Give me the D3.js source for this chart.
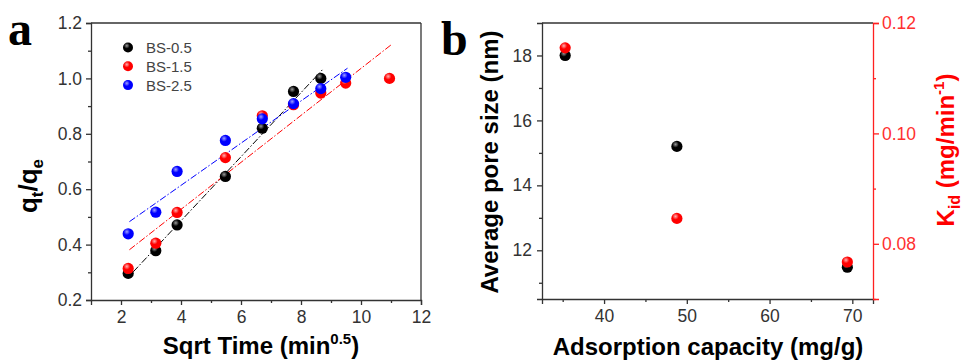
<!DOCTYPE html>
<html>
<head>
<meta charset="utf-8">
<script src="https://cdn.jsdelivr.net/npm/d3@7"></script>
<style>
  body { margin: 0; background: #fff; }
  svg { display: block; font-family: "Liberation Sans", Arial, sans-serif; }
  .tick text { fill: #333; font-size: 17.5px; }
  .ax path, .ax line { stroke: #333; stroke-width: 1.3; }
  .axred path, .axred line { stroke: #ff2020; stroke-width: 1.3; }
  .axred .tick text { fill: #ff3030; }
</style>
</head>
<body>
<div id="chart"></div>
<script>
// ---- panel a: intraparticle diffusion ----
const sqrtTime = [2.24, 3.16, 3.87, 5.48, 6.71, 7.75, 8.66, 9.49, 10.95];
const seriesNames = ['BS-0.5', 'BS-1.5', 'BS-2.5'];
const seriesColors = ['#000000', '#ff0000', '#0000ff'];
const bs05 = [0.296, 0.378, 0.471, 0.646, 0.82, 0.953, 1.0];
const bs15 = [0.314, 0.405, 0.516, 0.714, 0.865, 0.905, 0.947, 0.983, 1.0];
const bs25 = [0.439, 0.517, 0.664, 0.776, 0.854, 0.909, 0.963, 1.004];
// linear fits
const fitSlope = [0.1157, 0.0848, 0.0762];
const fitIntercept = [0.023, 0.188, 0.309];
const fitStart = [2.41, 2.28, 2.28];
const fitEnd = [8.71, 11.02, 9.55];
const aXTicks = [2, 4, 6, 8, 10, 12];
const aXMinor = [3, 5, 7, 9, 11];
const aYTicks = [0.2, 0.4, 0.6, 0.8, 1.0, 1.2];
const aYMinor = [0.3, 0.5, 0.7, 0.9, 1.1];

// ---- panel b ----
const capacity = [35.3, 48.8, 69.4];
const poreSize = [18.0, 15.2, 11.48];
const kid = [0.1155, 0.0846, 0.0767];
const bXTicks = [40, 50, 60, 70];
const bXMinor = [35, 45, 55, 65];
const bYTicks = [12, 14, 16, 18];
const bYMinor = [11, 13, 15, 17];
const bRTicks = [0.08, 0.10, 0.12];
const bRMinor = [0.07, 0.09, 0.11];

const W = 963, H = 360;
const svg = d3.select('#chart').append('svg')
    .attr('width', W)
    .attr('height', H);

// sphere-like marker gradients
const defs = svg.append('defs');
const ballColors = {black: ['#9a9a9a', '#000000'], red: ['#ffb0b0', '#ff0000'], blue: ['#a0a0ff', '#0000ff']};
Object.keys(ballColors).forEach(k => {
    const g = defs.append('radialGradient')
        .attr('id', 'ball-' + k)
        .attr('cx', '0.38').attr('cy', '0.32').attr('r', '0.65');
    g.append('stop').attr('offset', '0').attr('stop-color', ballColors[k][0]);
    g.append('stop').attr('offset', '0.45').attr('stop-color', ballColors[k][1]);
    g.append('stop').attr('offset', '1').attr('stop-color', ballColors[k][1]);
});
const ballKeys = ['black', 'red', 'blue'];
const R = 5.6;

function frame(x0, x1, y0, color) {
    svg.append('line').attr('x1', x0).attr('x2', x1).attr('y1', y0).attr('y2', y0)
        .attr('stroke', color || '#333').attr('stroke-width', 1.3);
}

// ================= panel a =================
const xa = d3.scaleLinear().domain([1, 12]).range([91, 421]);
const ya = d3.scaleLinear().domain([0.2, 1.2]).range([300, 23]);

// frame top + right
frame(91, 421, 23);
svg.append('line').attr('x1', 421).attr('x2', 421).attr('y1', 23).attr('y2', 300)
    .attr('stroke', '#333').attr('stroke-width', 1.3);

svg.append('g').attr('class', 'ax').attr('transform', 'translate(0,300)')
    .call(d3.axisBottom(xa).tickValues(aXTicks).tickSize(5).tickPadding(6).tickFormat(d3.format('d')));
svg.append('g').attr('class', 'ax').attr('transform', 'translate(0,300)')
    .call(d3.axisBottom(xa).tickValues(aXMinor).tickSize(3).tickFormat(''))
    .select('.domain').remove();
svg.append('g').attr('class', 'ax').attr('transform', 'translate(91,0)')
    .call(d3.axisLeft(ya).tickValues(aYTicks).tickSize(5).tickPadding(4).tickFormat(d3.format('.1f')));
svg.append('g').attr('class', 'ax').attr('transform', 'translate(91,0)')
    .call(d3.axisLeft(ya).tickValues(aYMinor).tickSize(3).tickFormat(''))
    .select('.domain').remove();

// fit lines
const fitLine = d3.line().x(d => xa(d[0])).y(d => ya(d[1]));
seriesNames.forEach((n, i) => {
    const pts = [fitStart[i], fitEnd[i]].map(x => [x, fitIntercept[i] + fitSlope[i] * x]);
    svg.append('path')
        .attr('d', fitLine(pts))
        .attr('fill', 'none')
        .attr('stroke', seriesColors[i])
        .attr('stroke-width', 1)
        .attr('stroke-dasharray', '7,2,1.5,2');
});

// points
[bs05, bs15, bs25].forEach((vals, i) => {
    svg.append('g').selectAll('circle')
        .data(vals)
        .enter().append('circle')
        .attr('cx', (d, j) => xa(sqrtTime[j]))
        .attr('cy', d => ya(d))
        .attr('r', R)
        .attr('fill', 'url(#ball-' + ballKeys[i] + ')');
});

// legend
const leg = svg.append('g').selectAll('g')
    .data(seriesNames)
    .enter().append('g')
    .attr('transform', (d, i) => 'translate(128,' + (47.5 + i * 18.8) + ')');
leg.append('circle').attr('r', 5).attr('fill', (d, i) => 'url(#ball-' + ballKeys[i] + ')');
leg.append('text').text(d => d)
    .attr('x', 18).attr('y', 5.5)
    .attr('fill', '#444').style('font-size', '15px');

// axis titles
const aXT = svg.append('text')
    .attr('x', 261).attr('y', 354)
    .attr('text-anchor', 'middle')
    .style('font-size', '24px').style('font-weight', 'bold');
aXT.append('tspan').text('Sqrt Time (min');
aXT.append('tspan').text('0.5').attr('dy', -10).style('font-size', '15px');
aXT.append('tspan').text(')').attr('dy', 10);

const aYT = svg.append('text')
    .attr('transform', 'translate(37,186) rotate(-90)')
    .attr('text-anchor', 'middle')
    .style('font-size', '26px').style('font-weight', 'bold');
aYT.append('tspan').text('q');
aYT.append('tspan').text('t').attr('dy', 6).style('font-size', '17px');
aYT.append('tspan').text('/q').attr('dy', -6);
aYT.append('tspan').text('e').attr('dy', 6).style('font-size', '17px');

svg.append('text').text('a')
    .attr('x', 8).attr('y', 45)
    .style('font-family', '"Liberation Serif", "Times New Roman", serif')
    .style('font-weight', 'bold').style('font-size', '48px');

// ================= panel b =================
const xb = d3.scaleLinear().domain([32.5, 72.5]).range([542, 873]);
const yb = d3.scaleLinear().domain([10.5, 19]).range([299, 23]);
const yr = d3.scaleLinear().domain([0.07, 0.12]).range([299, 23]);

frame(542, 873, 23);

svg.append('g').attr('class', 'ax').attr('transform', 'translate(0,299)')
    .call(d3.axisBottom(xb).tickValues(bXTicks).tickSize(5).tickPadding(6).tickFormat(d3.format('d')));
svg.append('g').attr('class', 'ax').attr('transform', 'translate(0,299)')
    .call(d3.axisBottom(xb).tickValues(bXMinor).tickSize(3).tickFormat(''))
    .select('.domain').remove();
svg.append('g').attr('class', 'ax').attr('transform', 'translate(542,0)')
    .call(d3.axisLeft(yb).tickValues(bYTicks).tickSize(5).tickPadding(5).tickFormat(d3.format('d')));
svg.append('g').attr('class', 'ax').attr('transform', 'translate(542,0)')
    .call(d3.axisLeft(yb).tickValues(bYMinor).tickSize(3).tickFormat(''))
    .select('.domain').remove();
svg.append('g').attr('class', 'axred').attr('transform', 'translate(873,0)')
    .call(d3.axisRight(yr).tickValues(bRTicks).tickSize(6).tickPadding(3).tickFormat(d3.format('.2f')));
svg.append('g').attr('class', 'axred').attr('transform', 'translate(873,0)')
    .call(d3.axisRight(yr).tickValues(bRMinor).tickSize(3).tickFormat(''))
    .select('.domain').remove();

svg.append('g').selectAll('circle')
    .data(poreSize)
    .enter().append('circle')
    .attr('cx', (d, j) => xb(capacity[j]))
    .attr('cy', d => yb(d))
    .attr('r', R)
    .attr('fill', 'url(#ball-black)');
svg.append('g').selectAll('circle')
    .data(kid)
    .enter().append('circle')
    .attr('cx', (d, j) => xb(capacity[j]))
    .attr('cy', d => yr(d))
    .attr('r', R)
    .attr('fill', 'url(#ball-red)');

svg.append('text').text('Adsorption capacity (mg/g)')
    .attr('x', 708).attr('y', 355)
    .attr('text-anchor', 'middle')
    .style('font-size', '24px').style('font-weight', 'bold');

svg.append('text').text('Average pore size (nm)')
    .attr('transform', 'translate(498,162) rotate(-90)')
    .attr('text-anchor', 'middle')
    .style('font-size', '24px').style('font-weight', 'bold');

const kT = svg.append('text')
    .attr('transform', 'translate(954,150) rotate(-90)')
    .attr('text-anchor', 'middle')
    .attr('fill', '#ff0000')
    .style('font-size', '24px').style('font-weight', 'bold');
kT.append('tspan').text('K');
kT.append('tspan').text('id').attr('dy', 6).style('font-size', '16px');
kT.append('tspan').text(' (mg/min').attr('dy', -6);
kT.append('tspan').text('-1').attr('dy', -10).style('font-size', '15px');
kT.append('tspan').text(')').attr('dy', 10);

svg.append('text').text('b')
    .attr('x', 441).attr('y', 55)
    .style('font-family', '"Liberation Serif", "Times New Roman", serif')
    .style('font-weight', 'bold').style('font-size', '48px');
</script>
</body>
</html>
